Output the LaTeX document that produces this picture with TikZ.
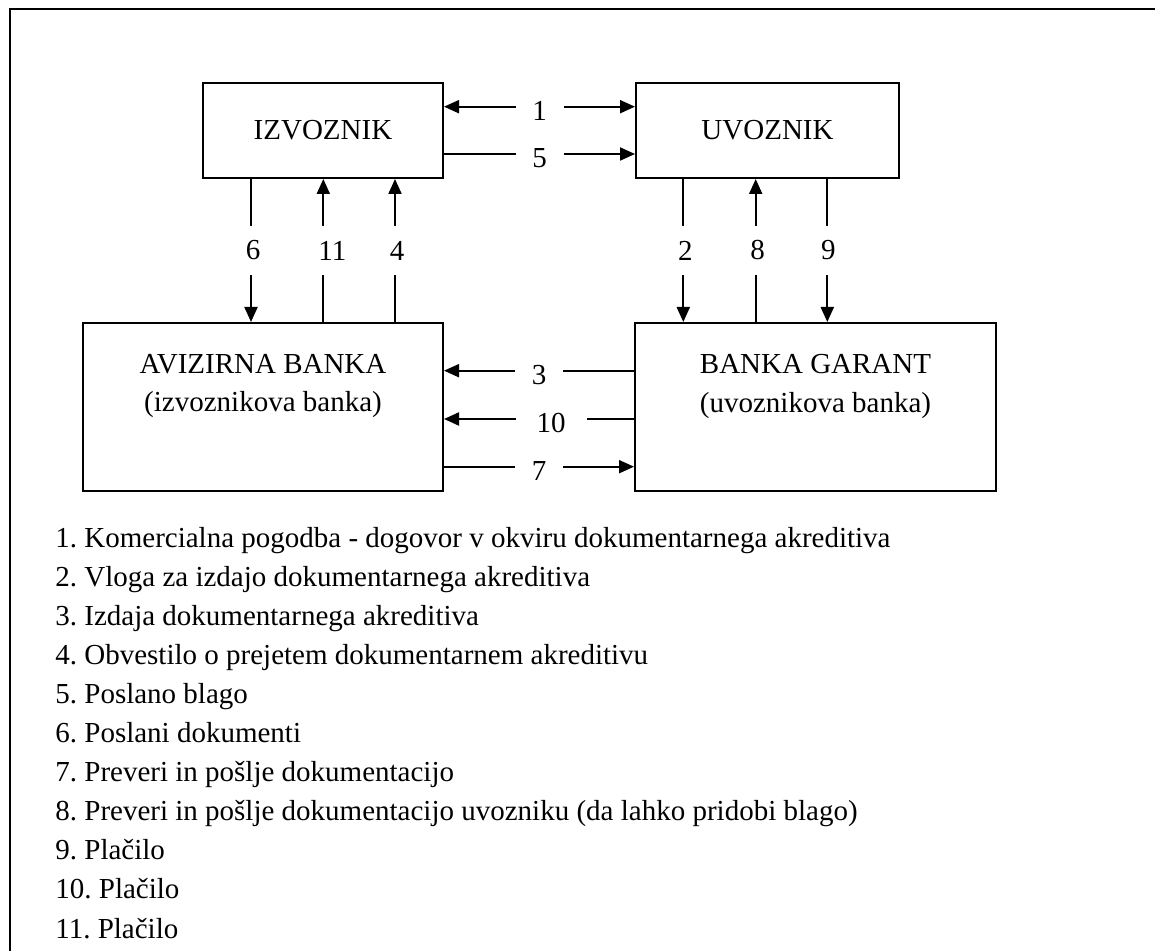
\documentclass[tikz,border=0pt]{standalone}
\usepackage{fontspec}
\setmainfont{Liberation Serif}
\usetikzlibrary{arrows.meta}
\begin{document}
\begin{tikzpicture}[x=0.5pt,y=-0.5pt,
  every node/.style={font=\fontsize{14.5}{17}\selectfont, inner sep=0pt},
  box/.style={draw, line width=1pt, rectangle},
  frameline/.style={line width=1pt},
  one/.style={line width=1pt, -{Triangle[length=7.5pt,width=6.5pt]}},
  dbl/.style={line width=1pt, {Triangle[length=7.5pt,width=6.5pt]}-{Triangle[length=7.5pt,width=6.5pt]}},
  hgap/.style={midway, fill=white, minimum width=24pt, minimum height=10pt, yshift=-2pt},
  vgap/.style={midway, fill=white, minimum height=24.5pt, minimum width=12pt, xshift=1pt}
]
\useasboundingbox (0,0) rectangle (1155,951);

% outer frame (top and left edges)
\draw[frameline] (1155,9) -- (9.5,9) -- (9.5,951);

% parties
\node[box, minimum width=120pt, minimum height=47.5pt] (izv) at (323,130.5) {IZVOZNIK};
\node[box, minimum width=131.5pt, minimum height=47.5pt] (uvo) at (767.5,130.5) {UVOZNIK};
\node[box, minimum width=180pt, minimum height=84pt] (avi) at (263,407) {};
\node[box, minimum width=180.5pt, minimum height=84pt] (gar) at (815.5,407) {};
\node[anchor=base] (avi1) at (263,373.3) {AVIZIRNA BANKA};
\node[anchor=base] (avi2) at (263,411.7) {(izvoznikova banka)};
\node[anchor=base] (gar1) at (815.5,374) {BANKA GARANT};
\node[anchor=base] (gar2) at (815.5,413) {(uvoznikova banka)};

% horizontal flows
\draw[dbl] (izv.east |- 0,106.7) -- node[hgap]{1} (uvo.west |- 0,106.7);
\draw[one] (izv.east |- 0,154) -- node[hgap]{5} (uvo.west |- 0,154);
\draw[one] (gar.west |- 0,370.7) -- node[hgap]{3} (avi.east |- 0,370.7);
\draw[one] (gar.west |- 0,419) -- node[hgap, minimum width=35.5pt, xshift=6pt]{10} (avi.east |- 0,419);
\draw[one] (avi.east |- 0,466.7) -- node[hgap]{7} (gar.west |- 0,466.7);

% vertical flows
\draw[one] (izv.south -| 251,0) -- node[vgap]{6} (avi.north -| 251,0);
\draw[one] (avi.north -| 323.3,0) -- node[vgap, xshift=3.5pt]{11} (izv.south -| 323.3,0);
\draw[one] (avi.north -| 395,0) -- node[vgap]{4} (izv.south -| 395,0);
\draw[one] (uvo.south -| 683.3,0) -- node[vgap]{2} (gar.north -| 683.3,0);
\draw[one] (gar.north -| 755.7,0) -- node[vgap]{8} (uvo.south -| 755.7,0);
\draw[one] (uvo.south -| 827.3,0) -- node[vgap, xshift=-0.5pt]{9} (gar.north -| 827.3,0);

% legend
\foreach \t [count=\k] in {
  Komercialna pogodba - dogovor v okviru dokumentarnega akreditiva,
  Vloga za izdajo dokumentarnega akreditiva,
  Izdaja dokumentarnega akreditiva,
  Obvestilo o prejetem dokumentarnem akreditivu,
  Poslano blago,
  Poslani dokumenti,
  Preveri in pošlje dokumentacijo,
  Preveri in pošlje dokumentacijo uvozniku (da lahko pridobi blago),
  Plačilo,
  Plačilo,
  Plačilo}
  \node[anchor=base west] (item\k) at (55,{547+39.1*(\k-1)}) {\k.\ \ignorespaces\t};
\end{tikzpicture}
\end{document}
